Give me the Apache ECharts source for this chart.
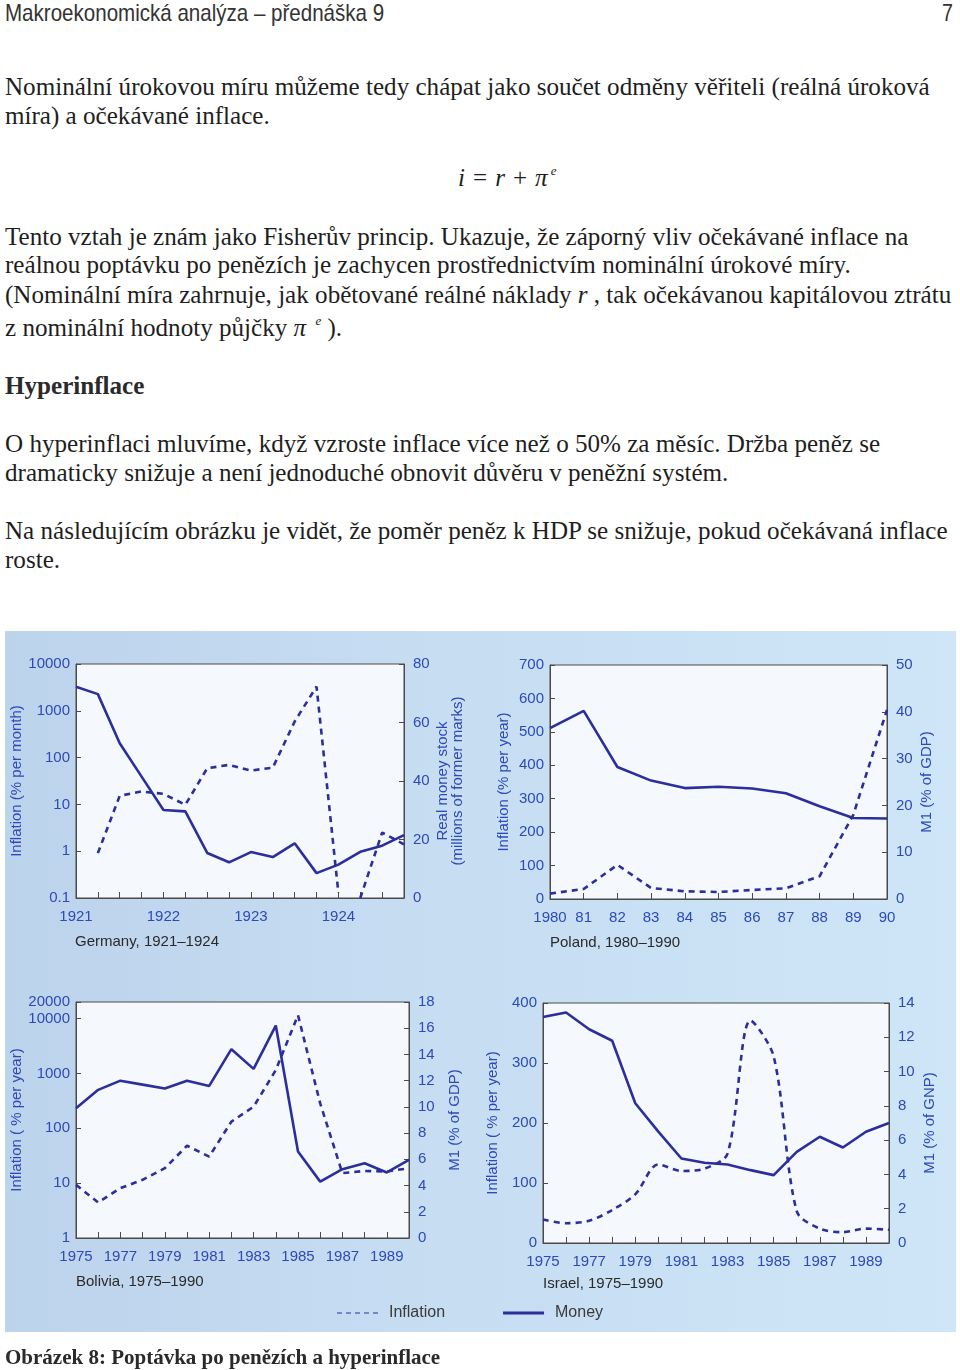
<!DOCTYPE html>
<html>
<head>
<meta charset="utf-8">
<script src="https://cdn.jsdelivr.net/npm/echarts/dist/echarts.min.js"></script>
<style>
  html, body { margin: 0; padding: 0; background: #fff; }
  #page { position: relative; width: 960px; height: 1370px; overflow: hidden; }
  .t {
    position: absolute; left: 5px; white-space: nowrap;
    font-family: "Liberation Serif", "Times New Roman", serif;
    font-size: 25.1px; line-height: 29px; color: #1e1e1e;
  }
  .b { font-weight: bold; color: #2a2a2a; }
  .cap { font-size: 21px; }
  .head {
    position: absolute; left: 5px; top: -1px; white-space: nowrap;
    font-family: "Liberation Sans", Arial, sans-serif; font-size: 24px; line-height: 28px;
    color: #333; transform: scaleX(0.856); transform-origin: 0 0;
  }
  .pg { position: absolute; left: 942px; top: -1px; font-family: "Liberation Sans", sans-serif; font-size: 24px; line-height: 28px; color: #333; transform: scaleX(0.82); transform-origin: 0 0; }
  sup { font-size: 13px; vertical-align: 0; position: relative; top: -11px; margin-left: 3px; }
  .op { margin: 0 8px; }
  #box {
    position: absolute; left: 5px; top: 631px; width: 951px; height: 701px;
    background: linear-gradient(90deg, #bcd3ec 0%, #c6ddf2 45%, #cee6f7 100%);
  }
  #chart { position: absolute; left: 0; top: 0; width: 960px; height: 1370px; }
</style>
</head>
<body>
<div id="page">
  <div class="head">Makroekonomická analýza – přednáška 9</div>
  <div class="pg">7</div>

  <div class="t" style="top:72px">Nominální úrokovou míru můžeme tedy chápat jako součet odměny věřiteli (reálná úroková</div>
  <div class="t" style="top:101px">míra) a očekávané inflace.</div>
  <div class="t" style="top:163px;left:458px"><i>i</i><span class="op">=</span><i>r</i><span class="op">+</span><i>π</i><sup><i>e</i></sup></div>
  <div class="t" style="top:222px">Tento vztah je znám jako Fisherův princip. Ukazuje, že záporný vliv očekávané inflace na</div>
  <div class="t" style="top:250px">reálnou poptávku po penězích je zachycen prostřednictvím nominální úrokové míry.</div>
  <div class="t" style="top:280px">(Nominální míra zahrnuje, jak obětované reálné náklady <i>r</i> , tak očekávanou kapitálovou ztrátu</div>
  <div class="t" style="top:313px">z nominální hodnoty půjčky <i>π</i> <sup><i>e</i></sup> ).</div>
  <div class="t b" style="top:371px">Hyperinflace</div>
  <div class="t" style="top:429px">O hyperinflaci mluvíme, když vzroste inflace více než o 50% za měsíc. Držba peněz se</div>
  <div class="t" style="top:458px">dramaticky snižuje a není jednoduché obnovit důvěru v peněžní systém.</div>
  <div class="t" style="top:516px">Na následujícím obrázku je vidět, že poměr peněz k HDP se snižuje, pokud očekávaná inflace</div>
  <div class="t" style="top:545px">roste.</div>

  <div id="box"></div>
  <div id="chart"></div>

  <div class="t b cap" style="top:1343px">Obrázek 8: Poptávka po penězích a hyperinflace</div>
</div>

<script>
  // Germany (quarterly)
  const germanyMoneyT = [1921, 1921.25, 1921.5, 1921.75, 1922, 1922.25, 1922.5, 1922.75,
    1923, 1923.25, 1923.5, 1923.75, 1924, 1924.25, 1924.5, 1924.75]
  const germanyMoney = [72.2, 69.7, 52.9, 41.5, 30.1, 29.6, 15.4, 12.2, 15.7, 14.0, 18.7, 8.5, 11.4, 15.8, 17.9, 21.5]
  const germanyInflT = [1921.25, 1921.5, 1921.75, 1922, 1922.25, 1922.5, 1922.75, 1923,
    1923.25, 1923.5, 1923.75, 1924, 1924.125, 1924.25, 1924.5, 1924.75]
  // null = deflation, not drawable on the log scale
  const germanyInfl = [0.91, 15.3, 18.9, 16.8, 9.8, 59, 70, 53, 61, 589, 3300, 0.128, null, 0.1, 2.5, 1.4]

  // Poland
  const polandYears = [1980, 1981, 1982, 1983, 1984, 1985, 1986, 1987, 1988, 1989, 1990]
  const polandMoney = [36.5, 40.2, 28.2, 25.3, 23.7, 24.0, 23.6, 22.6, 19.8, 17.3, 17.2]
  const polandInfl = [16, 30, 102, 33, 23, 21, 27, 32, 68, 252, 566]

  // Bolivia and Israel
  const years7590 = [1975, 1976, 1977, 1978, 1979, 1980, 1981, 1982, 1983, 1984, 1985, 1986, 1987, 1988, 1989, 1990]
  const boliviaMoney = [9.9, 11.3, 12.0, 11.7, 11.4, 12.0, 11.6, 14.4, 12.9, 16.2, 6.6, 4.3, 5.25, 5.7, 5.0, 5.96]
  const boliviaInfl = [9.3, 4.45, 8.1, 11.5, 18.7, 48, 30.5, 132, 247, 1150, 11500, 284, 15.2, 16.7, 16.3, 18.7]
  const israelMoney = [13.18, 13.45, 12.47, 11.8, 8.15, 6.5, 4.93, 4.68, 4.58, 4.25, 3.96, 5.32, 6.2, 5.57, 6.49, 7.0]
  const israelInfl = [39, 33, 37, 55, 81, 131, 120, 124, 149, 371, 311, 53, 24, 18, 24, 22]

  const titles = ['Germany, 1921–1924', 'Poland, 1980–1990', 'Bolivia, 1975–1990', 'Israel, 1975–1990']

  const blue = '#2d4ab8'
  const navy = '#2b2e9c'
  const frame = '#4a4a4a'
  const font = 'Liberation Sans'
  // five short dashes for the legend icon
  const dashIcon = 'path://M0,0h5v1h-5z M9,0h5v1h-5z M18,0h5v1h-5z M27,0h5v1h-5z M36,0h5v1h-5z'

  function pairs(xs, ys) {
    return xs.map((x, i) => [x, ys[i] == null ? '-' : ys[i]])
  }
  function logLabel(v) {
    return v < 1 ? v.toFixed(1) : String(Math.round(v))
  }

  function xAx(gi, min, max, interval, fmt) {
    return {
      type: 'value', gridIndex: gi, min: min, max: max, interval: interval,
      axisLine: { show: true, onZero: false, lineStyle: { color: frame } },
      axisTick: { inside: true, length: 6, lineStyle: { color: frame } },
      splitLine: { show: false },
      axisLabel: { color: blue, fontSize: 15, fontFamily: font, margin: 11, formatter: fmt, showMinLabel: true, showMaxLabel: true }
    }
  }
  function yAx(gi, pos, name, gap, extra) {
    return Object.assign({
      gridIndex: gi, position: pos, name: name, nameGap: gap,
      nameLocation: 'middle', nameRotate: 90,
      nameTextStyle: { color: blue, fontSize: 15, fontFamily: font, lineHeight: 15 },
      axisLine: { show: true, onZero: false, lineStyle: { color: frame } },
      axisTick: { inside: true, length: 5, lineStyle: { color: frame } },
      splitLine: { show: false },
      axisLabel: { color: blue, fontSize: 15, fontFamily: font, margin: pos === 'left' ? 6 : 9 }
    }, extra)
  }
  function dashed(xi, yi, data, smooth) {
    return {
      name: 'Inflation', type: 'line', xAxisIndex: xi, yAxisIndex: yi, data: data,
      symbol: 'none', smooth: smooth || false, connectNulls: false,
      lineStyle: { color: navy, width: 2.6, type: [6, 5] }, itemStyle: { color: navy }
    }
  }
  function solid(xi, yi, data) {
    return {
      name: 'Money', type: 'line', xAxisIndex: xi, yAxisIndex: yi, data: data,
      symbol: 'none', lineStyle: { color: navy, width: 2.6 }, itemStyle: { color: navy }
    }
  }

  const chart = echarts.init(document.getElementById('chart'), null, { renderer: 'canvas' })
  const gridStyle = { show: true, backgroundColor: '#f5f8fc', borderColor: frame, borderWidth: 1 }
  const oddYear = v => ((v - 1975) % 2 === 0 && v < 1990 ? String(v) : '')

  const option = {
    animation: false,
    backgroundColor: 'transparent',
    grid: [
      Object.assign({ left: 76, top: 664, width: 328, height: 234 }, gridStyle),
      Object.assign({ left: 550, top: 665, width: 337, height: 234 }, gridStyle),
      Object.assign({ left: 76, top: 1002, width: 333, height: 236 }, gridStyle),
      Object.assign({ left: 543, top: 1003, width: 346, height: 240 }, gridStyle)
    ],
    title: [
      { text: titles[0], left: 75, top: 934 },
      { text: titles[1], left: 550, top: 935 },
      { text: titles[2], left: 76, top: 1274 },
      { text: titles[3], left: 543, top: 1276 }
    ].map(t => Object.assign(t, { padding: 0, textStyle: { color: '#2a2a2a', fontSize: 15, fontWeight: 'normal', fontFamily: font } })),
    legend: {
      left: 337, top: 1305, padding: 0, itemWidth: 41, itemHeight: 3, itemGap: 58,
      data: [{ name: 'Inflation', icon: dashIcon }, { name: 'Money', icon: 'rect' }],
      textStyle: { color: '#3a3a3a', fontSize: 16, fontFamily: font, padding: [0, 0, 0, 6] }
    },
    xAxis: [
      xAx(0, 1921, 1924.75, 0.25, v => (Number.isInteger(v) ? String(v) : '')),
      xAx(1, 1980, 1990, 1, v => (v === 1980 ? '1980' : String(v % 100).padStart(2, '0'))),
      xAx(2, 1975, 1990, 1, oddYear),
      xAx(3, 1975, 1990, 1, oddYear)
    ],
    yAxis: [
      yAx(0, 'left', 'Inflation (% per month)', 52, { type: 'log', logBase: 10, min: 0.1, max: 10000, axisLabel: { color: blue, fontSize: 15, fontFamily: font, margin: 6, formatter: logLabel } }),
      yAx(0, 'right', 'Real money stock\n(millions of former marks)', 31, { type: 'value', min: 0, max: 80, interval: 20 }),
      yAx(1, 'left', 'Inflation (% per year)', 39, { type: 'value', min: 0, max: 700, interval: 100 }),
      yAx(1, 'right', 'M1 (% of GDP)', 32, { type: 'value', min: 0, max: 50, interval: 10 }),
      yAx(2, 'left', 'Inflation ( % per year)', 52, { type: 'log', logBase: 10, min: 1, max: 20000, axisLabel: { color: blue, fontSize: 15, fontFamily: font, margin: 6, formatter: logLabel } }),
      yAx(2, 'right', 'M1 (% of GDP)', 38, { type: 'value', min: 0, max: 18, interval: 2 }),
      yAx(3, 'left', 'Inflation ( % per year)', 43, { type: 'value', min: 0, max: 400, interval: 100 }),
      yAx(3, 'right', 'M1 (% of GNP)', 33, { type: 'value', min: 0, max: 14, interval: 2 })
    ],
    series: [
      dashed(0, 0, pairs(germanyInflT, germanyInfl)),
      solid(0, 1, pairs(germanyMoneyT, germanyMoney)),
      dashed(1, 2, pairs(polandYears, polandInfl)),
      solid(1, 3, pairs(polandYears, polandMoney)),
      dashed(2, 4, pairs(years7590, boliviaInfl)),
      solid(2, 5, pairs(years7590, boliviaMoney)),
      dashed(3, 6, pairs(years7590, israelInfl), 0.3),
      solid(3, 7, pairs(years7590, israelMoney))
    ]
  }
  chart.setOption(option)
</script>
</body>
</html>
